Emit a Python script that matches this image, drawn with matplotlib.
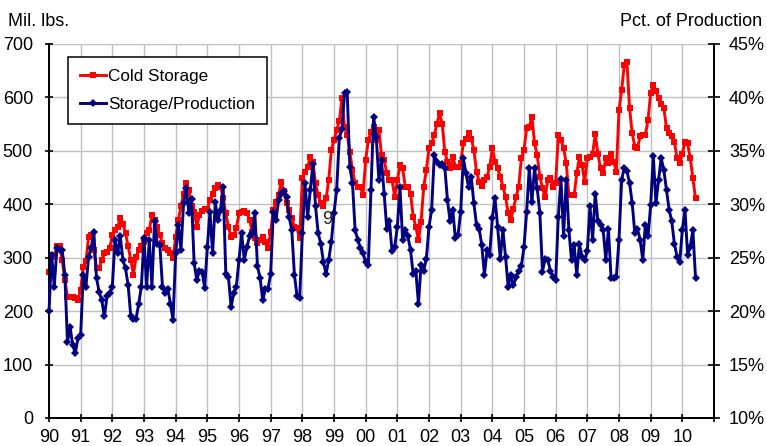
import numpy as np
import matplotlib.pyplot as plt
from matplotlib.lines import Line2D

plt.rcParams['font.family'] = ['Liberation Sans', 'DejaVu Sans']

# monthly values, Jan 1990 .. Jun 2010
start_year = 1990

# cold storage stocks, mil. lbs.
cold_storage = [
    274, 305, 302, 322, 322, 296, 258, 227, 227, 227, 224, 221,  # 1990
    240, 283, 293, 339, 342, 314, 280, 280, 296, 308, 311, 318,  # 1991
    342, 352, 358, 374, 364, 346, 321, 296, 268, 302, 314, 321,  # 1992
    330, 346, 352, 380, 371, 358, 342, 327, 318, 314, 308, 299,  # 1993
    339, 371, 396, 420, 439, 427, 396, 386, 358, 380, 388, 392,  # 1994
    392, 408, 420, 430, 436, 433, 411, 383, 358, 339, 342, 355,  # 1995
    383, 386, 388, 384, 371, 349, 336, 327, 333, 339, 330, 318,  # 1996
    349, 389, 405, 417, 442, 424, 402, 389, 374, 358, 355, 336,  # 1997
    449, 461, 470, 489, 480, 439, 417, 402, 396, 411, 445, 502,  # 1998
    520, 539, 555, 598, 545, 530, 498, 464, 439, 433, 433, 417,  # 1999
    483, 520, 535, 545, 520, 539, 492, 483, 458, 445, 445, 414,  # 2000
    445, 473, 467, 433, 433, 420, 377, 358, 333, 367, 433, 464,  # 2001
    505, 514, 530, 551, 570, 551, 498, 480, 467, 489, 470, 470,  # 2002
    477, 514, 523, 533, 523, 502, 461, 442, 435, 445, 452, 470,  # 2003
    505, 480, 467, 452, 433, 414, 383, 371, 392, 414, 433, 486,  # 2004
    502, 542, 545, 564, 514, 492, 452, 430, 414, 445, 449, 433,  # 2005
    439, 530, 520, 505, 477, 417, 417, 417, 458, 489, 473, 442,  # 2006
    486, 489, 495, 531, 495, 467, 458, 486, 477, 495, 480, 461,  # 2007
    576, 614, 661, 667, 580, 533, 508, 505, 527, 530, 530, 558,  # 2008
    608, 624, 612, 598, 588, 580, 542, 533, 527, 517, 486, 477,  # 2009
    495, 517, 514, 486, 449, 411,                                # 2010
]

# storage / production, percent
storage_pct = [
    20.0, 25.3, 22.3, 25.9, 25.7, 25.7, 23.4, 17.1, 18.5, 16.8, 16.1, 17.5,  # 1990
    17.8, 23.4, 22.3, 25.1, 25.9, 27.4, 23.1, 21.8, 21.0, 19.5, 21.4, 21.7,  # 1991
    22.3, 26.7, 25.4, 27.0, 24.8, 24.0, 22.4, 19.5, 19.3, 19.3, 20.7, 22.3,  # 1992
    26.8, 22.3, 26.7, 22.3, 28.4, 26.3, 26.2, 22.3, 21.7, 22.1, 20.7, 19.2,  # 1993
    25.4, 28.1, 25.7, 30.1, 31.5, 29.2, 30.5, 24.5, 22.9, 23.8, 23.7, 22.2,  # 1994
    26.0, 29.3, 25.4, 30.2, 28.5, 29.5, 31.6, 23.5, 23.2, 20.4, 21.7, 22.3,  # 1995
    24.8, 27.3, 24.8, 26.0, 27.0, 27.3, 29.2, 24.2, 23.1, 21.0, 22.1, 22.1,  # 1996
    23.5, 29.3, 28.5, 30.4, 31.0, 31.2, 30.7, 28.8, 27.6, 23.4, 21.4, 21.2,  # 1997
    27.3, 32.0, 28.8, 31.3, 33.8, 29.8, 27.3, 26.3, 24.6, 23.5, 24.8, 26.5,  # 1998
    29.2, 31.3, 36.2, 37.0, 40.4, 40.5, 33.5, 32.0, 27.6, 26.7, 25.9, 25.4,  # 1999
    24.6, 24.3, 31.3, 38.2, 36.3, 32.3, 34.1, 31.0, 27.7, 28.4, 25.6, 26.0,  # 2000
    27.9, 31.6, 26.7, 27.6, 27.0, 25.7, 23.5, 23.8, 20.7, 24.3, 23.8, 24.9,  # 2001
    27.9, 29.5, 34.6, 34.0, 33.7, 33.8, 33.4, 30.4, 28.4, 29.5, 26.8, 27.1,  # 2002
    29.3, 34.3, 32.9, 31.6, 32.6, 30.1, 28.1, 27.7, 26.2, 23.4, 25.7, 25.3,  # 2003
    28.7, 30.6, 27.9, 24.9, 27.6, 25.1, 22.3, 23.4, 22.4, 23.2, 23.8, 24.2,  # 2004
    26.0, 29.3, 33.4, 30.2, 33.4, 31.5, 29.2, 23.7, 24.9, 24.8, 23.8, 23.2,  # 2005
    22.9, 28.8, 32.4, 27.0, 32.3, 27.6, 24.8, 26.2, 23.4, 26.3, 25.1, 24.8,  # 2006
    25.6, 29.8, 26.7, 31.0, 28.4, 28.1, 27.6, 24.8, 27.7, 23.1, 23.1, 23.2,  # 2007
    26.7, 32.3, 33.4, 33.1, 32.0, 30.1, 27.3, 27.7, 26.7, 24.8, 28.1, 27.0,  # 2008
    29.9, 34.5, 30.1, 32.3, 34.3, 33.2, 31.3, 29.5, 28.4, 26.3, 25.1, 24.6,  # 2009
    27.6, 29.5, 25.3, 26.0, 27.6, 23.1,                                      # 2010
]

year_ticks = list(range(1990, 2012))
year_labels = [f"{y % 100:02d}" for y in year_ticks[:-1]] + [""]
left_ticks = list(range(0, 800, 100))
right_ticks = list(range(10, 50, 5))

assert len(cold_storage) == len(storage_pct)

x = start_year + np.arange(len(cold_storage)) / 12.0

fig = plt.figure(figsize=(7.67, 4.46), dpi=100)
ax = fig.add_axes([49 / 767, 1 - 418 / 446, 665 / 767, 374 / 446])
ax2 = ax.twinx()

ax.set_axisbelow(True)
ax.grid(True, color="#c0c0c0", linewidth=1.0)

red_style = dict(color="#ff0000", linewidth=2.1, marker="s", markersize=5.0,
                 markeredgewidth=0)
blue_style = dict(color="#000080", linewidth=2.1, marker="D", markersize=3.8,
                  markeredgewidth=0)

ax.plot(x, cold_storage, label="Cold Storage", clip_on=False, **red_style)
ax2.plot(x, storage_pct, label="Storage/Production", clip_on=False, **blue_style)

ax.set_xlim(1990, 2011)
ax.set_ylim(0, 700)
ax2.set_ylim(10, 45)

ax.set_xticks(year_ticks)
ax.set_xticklabels(year_labels)
ax.set_yticks(left_ticks)
ax2.set_yticks(right_ticks)
ax2.set_yticklabels([f"{v}%" for v in right_ticks])

for a in (ax, ax2):
    a.spines["top"].set_visible(False)
    for s in a.spines.values():
        s.set_linewidth(1.4)
ax.spines["right"].set_visible(False)
ax2.spines["left"].set_visible(False)

ax.tick_params(axis="y", direction="inout", length=6, width=1.2, labelsize=13, pad=8.5)
ax.tick_params(axis="x", direction="inout", length=6, width=1.2, labelsize=13, pad=5.2)
ax2.tick_params(axis="y", direction="inout", length=8.6, width=1.2, labelsize=13, pad=6.5)

fig.text(8 / 767, 1 - 25.5 / 446, "Mil. lbs.", fontsize=13, va="baseline", ha="left")
fig.text(762 / 767, 1 - 25.5 / 446, "Pct. of Production", fontsize=13,
         va="baseline", ha="right")

# stray data label left in the original chart
ax2.text(1998.78, 372, "9", transform=ax.transData, fontsize=13,
         ha="center", va="center", color="#222222", zorder=5)

handles = [Line2D([], [], **red_style), Line2D([], [], **blue_style)]
leg = ax2.legend(handles, ["Cold Storage", "Storage/Production"],
                 loc="upper left", bbox_to_anchor=(0.028, 0.966),
                 borderaxespad=0, fontsize=12.3, handlelength=1.5,
                 handletextpad=0.15, labelspacing=0.75, borderpad=0.72,
                 fancybox=False, framealpha=1, edgecolor="black")
leg.get_frame().set_linewidth(1.1)
leg.set_zorder(10)

fig.savefig("out.png", dpi=100)
